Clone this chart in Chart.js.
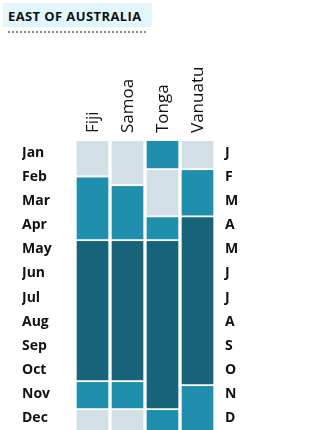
<!DOCTYPE html>
<html>
<head>
<meta charset="utf-8">
<script src="https://cdn.jsdelivr.net/npm/chart.js@4"></script>
<style>
  html, body { margin: 0; padding: 0; background: #fff; }
  #wrap { position: relative; width: 315px; height: 430px; }
  #title {
    position: absolute; left: 3px; top: 3px; width: 149px; height: 24px;
    background: #e1f7fc; font: bold 13px "Open Sans", sans-serif; color: #111;
    line-height: 26px; padding-left: 5px; box-sizing: border-box; letter-spacing: 0.4px;
  }
  #rule {
    position: absolute; left: 8px; top: 31px; width: 138px; height: 0;
    border-top: 2px dotted #8a8a8a;
  }
  canvas { position: absolute; left: 0; top: 0; }
</style>
</head>
<body>
<div id="wrap">
  <canvas id="chart" width="315" height="430"></canvas>
  <div id="title">EAST OF AUSTRALIA</div>
  <div id="rule"></div>
</div>
<script>
// 국가별 시즌 구간 (월 단위, 0 = 1월 시작)
const countries = ['Fiji', 'Samoa', 'Tonga', 'Vanuatu'];
const months = ['Jan', 'Feb', 'Mar', 'Apr', 'May', 'Jun', 'Jul', 'Aug', 'Sep', 'Oct', 'Nov', 'Dec'];
const monthLetters = ['J', 'F', 'M', 'A', 'M', 'J', 'J', 'A', 'S', 'O', 'N', 'D'];

const fijiBounds = [0, 1.5, 4.15, 10.0, 11.17, 12.2];
const fijiLevels = [0, 1, 2, 1, 0];
const samoaBounds = [0, 1.87, 4.15, 10.0, 11.17, 12.2];
const samoaLevels = [0, 1, 2, 1, 0];
const tongaBounds = [0, 1.2, 3.16, 4.15, 11.17, 12.2];
const tongaLevels = [1, 0, 1, 2, 1];
const vanuatuBounds = [0, 1.2, 3.16, 10.17, 12.2];
const vanuatuLevels = [0, 1, 2, 1];

const levelColors = ['#d3dfe7', '#1f8fad', '#17637a'];

const allBounds = [fijiBounds, samoaBounds, tongaBounds, vanuatuBounds];
const allLevels = [fijiLevels, samoaLevels, tongaLevels, vanuatuLevels];

// 구간 번호별 데이터셋 구성
const maxSeg = Math.max(...allLevels.map(l => l.length));
const datasets = [];
for (let s = 0; s < maxSeg; s++) {
    datasets.push({
        data: countries.map((c, i) => s < allLevels[i].length ? [allBounds[i][s], allBounds[i][s + 1]] : null),
        backgroundColor: countries.map((c, i) => levelColors[allLevels[i][s]] || 'transparent'),
        borderColor: '#ffffff',
        borderWidth: { left: 2, right: 2, top: 0, bottom: 2 },
        borderSkipped: false,
        barPercentage: 1,
        categoryPercentage: 1
    });
}

const monthTicks = scale => {
    scale.ticks = months.map((m, i) => ({ value: i + 0.5 }));
};

// 세로축 라벨 여백 제거 (차트 영역이 바닥까지 오도록)
const fitY = width => scale => {
    scale.width = width;
    scale.paddingTop = 0;
    scale.paddingBottom = 0;
};

new Chart(document.getElementById('chart'), {
    type: 'bar',
    data: { labels: countries, datasets: datasets },
    options: {
        responsive: false,
        animation: false,
        layout: { padding: { left: 22, right: 0, top: 0, bottom: 0 } },
        plugins: { legend: { display: false }, tooltip: { enabled: false } },
        scales: {
            x: {
                position: 'top',
                stacked: true,
                grid: { display: false, drawTicks: false },
                border: { display: false },
                ticks: {
                    minRotation: 90, maxRotation: 90, padding: 8,
                    labelOffset: 21,
                    color: '#111',
                    font: { family: '"Open Sans", sans-serif', size: 17 }
                },
                afterFit: scale => { scale.height = 141; }
            },
            y: {
                position: 'left',
                reverse: true,
                min: 0, max: 12,
                grid: { display: false, drawTicks: false },
                border: { display: false },
                afterBuildTicks: monthTicks,
                ticks: {
                    crossAlign: 'far',
                    color: '#111',
                    font: { family: '"Open Sans", sans-serif', size: 14, weight: 'bold' },
                    callback: (v, i) => months[i]
                },
                afterFit: fitY(53)
            },
            y2: {
                position: 'right',
                reverse: true,
                min: 0, max: 12,
                grid: { display: false, drawTicks: false },
                border: { display: false },
                afterBuildTicks: monthTicks,
                ticks: {
                    padding: 10,
                    color: '#111',
                    font: { family: '"Open Sans", sans-serif', size: 14, weight: 'bold' },
                    callback: (v, i) => monthLetters[i]
                },
                afterFit: fitY(100)
            }
        }
    }
});
</script>
</body>
</html>
